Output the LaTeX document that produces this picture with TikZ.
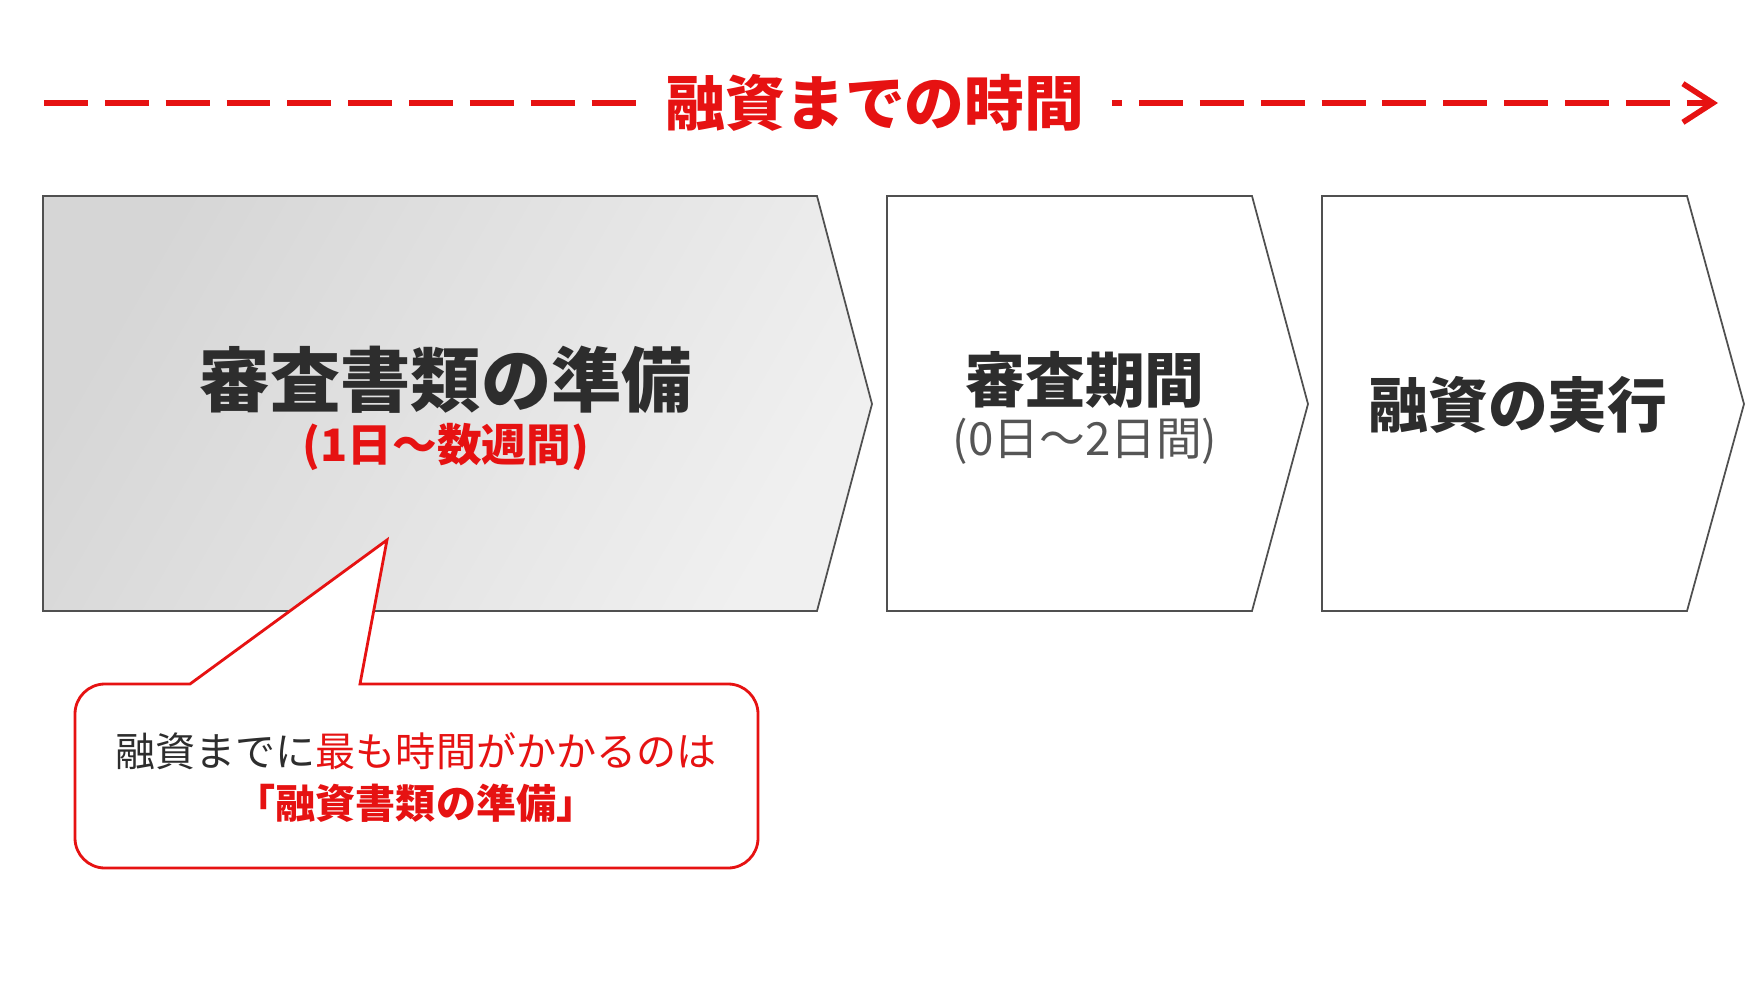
\documentclass[tikz,border=0pt]{standalone}
\usepackage{fontspec}
\setmainfont{Noto Sans CJK JP}
\usetikzlibrary{arrows.meta}
\definecolor{mainred}{RGB}{230,18,18}
\definecolor{textgray}{RGB}{45,45,45}
\definecolor{subgray}{RGB}{85,85,85}
\definecolor{edgegray}{RGB}{80,80,80}

\begin{document}
\begin{tikzpicture}[x=0.01cm,y=-0.01cm,
  chevron/.style={draw=edgegray,line width=0.5pt},
  timeline/.style={draw=mainred,line width=1.6pt,dash pattern=on 12.5pt off 4.8pt,-{Straight Barb[length=8.5pt,width=11pt]}},
  title/.style={fill=white,text=mainred,inner xsep=8pt,font=\fontsize{17}{20}\selectfont\bfseries},
  headbig/.style={text=textgray,font=\fontsize{20}{24}\selectfont\bfseries},
  head/.style={text=textgray,font=\fontsize{17}{20}\selectfont\bfseries},
  subred/.style={text=mainred,font=\fontsize{12.7}{15}\selectfont\bfseries},
  subgrey/.style={text=subgray,font=\fontsize{13}{15}\selectfont},
  callout/.style={draw=mainred,fill=white,line width=0.8pt},
  note/.style={text=textgray,align=center,font=\fontsize{11.4}{14.8}\selectfont}]
\useasboundingbox (0,0) rectangle (1763,1000);

% time line
\coordinate (tstart) at (44,103);
\coordinate (tend) at (1718,103);
\draw[timeline] (tstart) -- (tend);
\node[title] (ttl) at (875,103) {融資までの時間};

% steps
\shade[left color=gray!32,right color=gray!12,shading angle=60] (43,196) -- (817,196) -- (872,404) -- (817,611) -- (43,611) -- cycle;
\draw[chevron] (43,196) -- (817,196) -- (872,404) -- (817,611) -- (43,611) -- cycle;
\draw[chevron] (887,196) -- (1252,196) -- (1308,404) -- (1252,611) -- (887,611) -- cycle;
\draw[chevron] (1322,196) -- (1687,196) -- (1744,404) -- (1687,611) -- (1322,611) -- cycle;

\node[headbig] (prep) at (446,380) {審査書類の準備};
\node[subred] (prepdays) at (446,447) {(1日〜数週間)};
\node[head] (exam) at (1085,380) {審査期間};
\node[subgrey] (examdays) at (1085,441) {(0日〜2日間)};
\node[head] (exec) at (1518,405) {融資の実行};

% callout
\draw[callout] (360,684) [rounded corners=8.5pt] -- (758,684) -- (758,868) -- (75,868) -- (75,684) [sharp corners] -- (190,684) -- (387,540) -- cycle;
\node[note] (msg) at (416,778) {融資までに\textcolor{mainred}{最も時間がかかるのは}\\\textcolor{mainred}{\bfseries 「融資書類の準備」}};
\end{tikzpicture}
\end{document}
